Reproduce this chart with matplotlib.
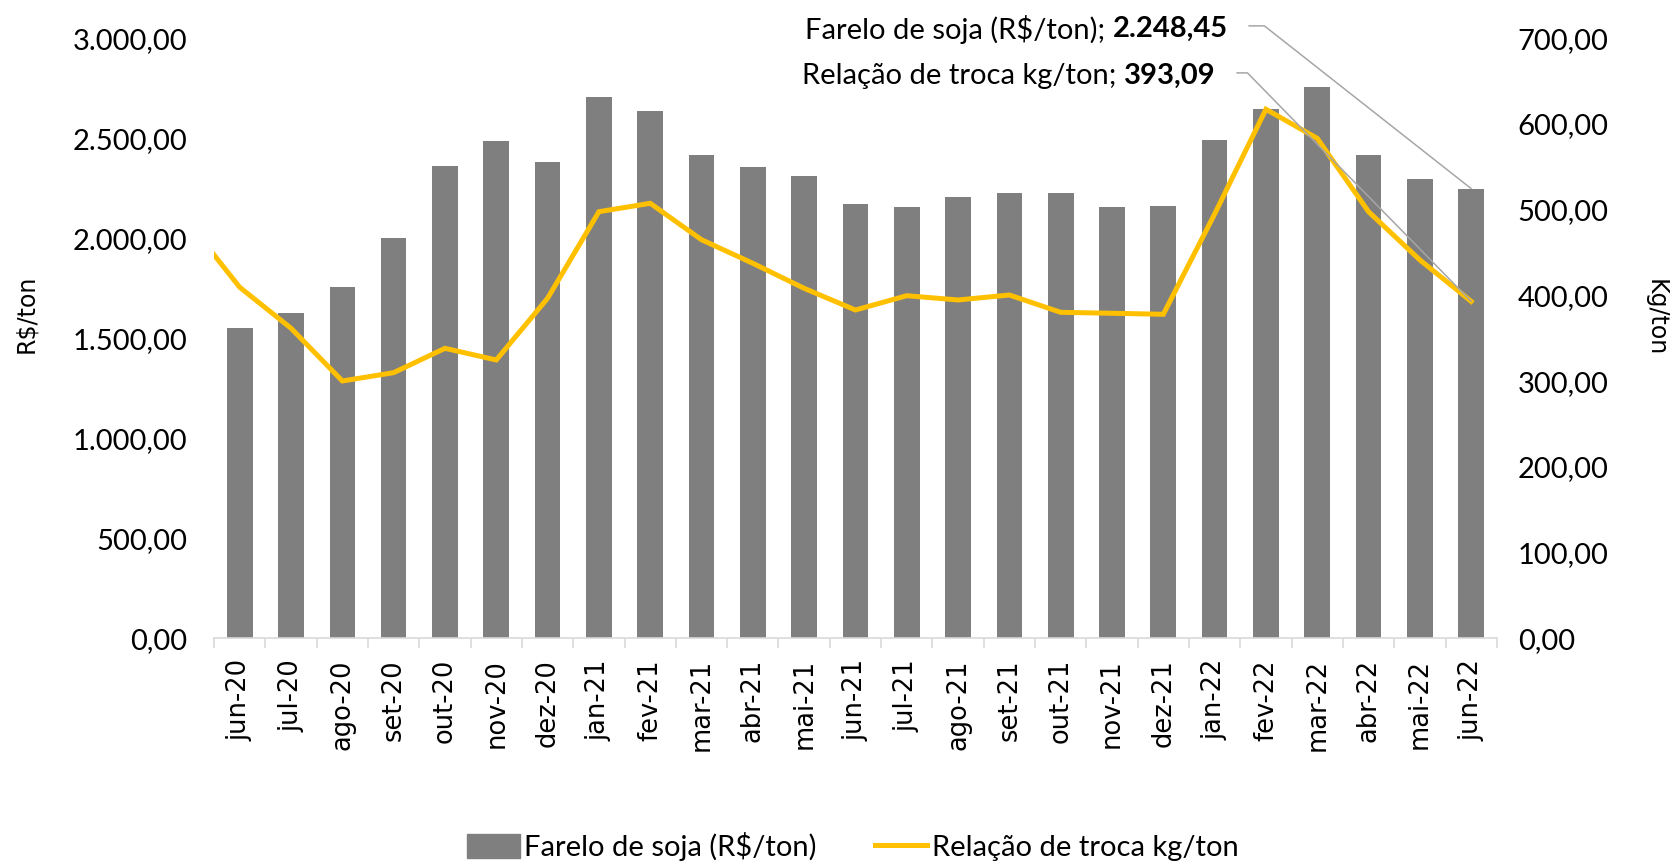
import matplotlib
matplotlib.use("Agg")
import matplotlib.pyplot as plt
from matplotlib.ticker import FuncFormatter, FixedLocator
import numpy as np

meses = ["jun-20", "jul-20", "ago-20", "set-20", "out-20", "nov-20", "dez-20",
         "jan-21", "fev-21", "mar-21", "abr-21", "mai-21", "jun-21", "jul-21",
         "ago-21", "set-21", "out-21", "nov-21", "dez-21", "jan-22", "fev-22",
         "mar-22", "abr-22", "mai-22", "jun-22"]

farelo = [1550, 1628, 1757, 2000, 2363, 2485, 2382, 2705, 2635, 2417, 2357,
          2313, 2170, 2157, 2208, 2225, 2228, 2155, 2160, 2492, 2648, 2755,
          2417, 2295, 2248.45]

# relação de troca; first value is the month before jun-20 (clipped at the edge)
troca_anterior = 485
troca = [409.5, 361.7, 300.2, 309.9, 338.3, 324.7, 396.7, 497.7, 507.5, 465,
         437.5, 408.3, 383, 399.7, 394.7, 400.5, 380.3, 379.2, 378, 495,
         617.2, 583.3, 497.7, 441.4, 393.09]


def br(v, pos=None):
    s = f"{v:,.2f}"
    return s.replace(",", "X").replace(".", ",").replace("X", ".")


cinza = "#7F7F7F"
amarelo = "#FFC000"
fonte = "Lato"
fonte_x = "DejaVu Sans"
tam = 21

fig = plt.figure(figsize=(16.79, 8.61), dpi=100)
ax = fig.add_axes([0.1275, 0.2587, 0.764, 0.6968])
ax2 = ax.twinx()

x = np.arange(len(meses))
ax.bar(x, farelo, width=0.5, color=cinza, zorder=2)
ax2.plot(np.concatenate([[-1], x]), [troca_anterior] + troca,
         color=amarelo, lw=3.6, solid_joinstyle="miter", zorder=3)

ax.set_xlim(-0.5, len(meses) - 0.5)
ax.set_ylim(0, 3000)
ax2.set_ylim(0, 700)
ax.set_yticks(np.arange(0, 3001, 500))
ax2.set_yticks(np.arange(0, 701, 100))
ax.yaxis.set_major_formatter(FuncFormatter(br))
ax2.yaxis.set_major_formatter(FuncFormatter(br))

for a in (ax, ax2):
    for s in ("top", "left", "right"):
        a.spines[s].set_visible(False)
    a.spines["bottom"].set_color("#D9D9D9")
    a.spines["bottom"].set_linewidth(1.2)
ax2.spines["bottom"].set_visible(False)

ax.tick_params(axis="y", length=0, pad=19, labelsize=tam, labelfontfamily=fonte)
ax2.tick_params(axis="y", length=0, pad=15, labelsize=tam, labelfontfamily=fonte)

ax.set_xticks(x)
ax.set_xticklabels(meses, rotation=90)
ax.tick_params(axis="x", which="major", length=0, pad=15, labelsize=18.5,
               labelfontfamily=fonte_x)
ax.xaxis.set_minor_locator(FixedLocator(np.arange(-0.5, len(meses), 1)))
ax.tick_params(axis="x", which="minor", length=7.2, width=1.2, color="#D9D9D9")

ax.set_ylabel("R$/ton", fontsize=17, fontfamily=fonte_x)
ax2.set_ylabel("Kg/ton", fontsize=17, fontfamily=fonte_x, rotation=-90)
ax.yaxis.set_label_coords(-0.137, 0.54)
ax2.yaxis.set_label_coords(1.133, 0.535)


# rótulos com linhas de chamada: texto normal + valor em negrito
def rotulo(eixo, nome, valor, y_px, x_dir, ang):
    tb = fig.text(x_dir / 1679, 1 - y_px / 861, br(valor), ha="right",
                  va="center", fontsize=tam, family=fonte, weight="bold")
    eixo.annotate(nome + "; ", xy=(0, 0.5), xycoords=tb, ha="right",
                  va="center", fontsize=tam, family=fonte)
    eixo.annotate("", xy=(x[-1], valor), xycoords="data",
                  xytext=(1.0, 0.62), textcoords=tb,
                  arrowprops=dict(arrowstyle="-", color="#A6A6A6", lw=1.1,
                                  shrinkA=15, shrinkB=0,
                                  connectionstyle=f"angle,angleA=0,angleB={ang},rad=0"),
                  annotation_clip=False, zorder=5)


rotulo(ax, "Farelo de soja (R$/ton)", farelo[-1], 29, 1228, 141.8)
rotulo(ax2, "Relação de troca kg/ton", troca[-1], 76, 1216, 134.4)

h1 = plt.Rectangle((0, 0), 1, 1, color=cinza)
h2 = plt.Line2D([], [], color=amarelo, lw=3.6)
fig.legend([h1, h2], ["Farelo de soja (R$/ton)", "Relação de troca kg/ton"],
           loc="center", bbox_to_anchor=(0.508, 0.017), ncol=2, frameon=False,
           prop={"family": fonte, "size": tam}, handlelength=1.8,
           handleheight=0.9, handletextpad=0.15, columnspacing=2.0)

fig.savefig("out.png", dpi=100)
